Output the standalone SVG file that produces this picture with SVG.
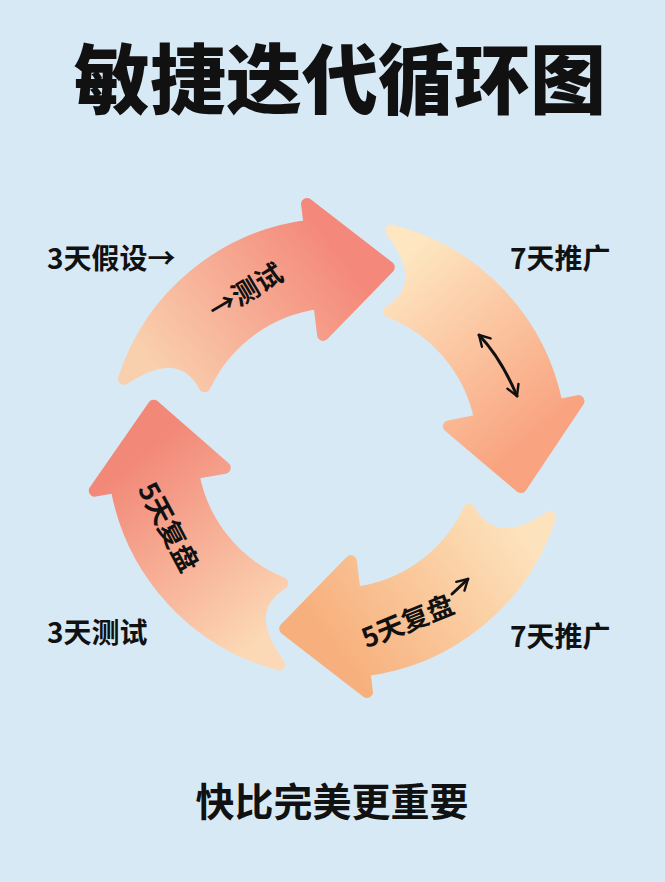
<svg xmlns="http://www.w3.org/2000/svg" width="665" height="882" viewBox="0 0 665 882">
<style>
.arr{stroke-width:12;stroke-linejoin:round}
.t{font-family:"Noto Sans CJK SC","Noto Sans",sans-serif;fill:#111}
.lab{font-size:28px;font-weight:700}
.in{font-size:27px;font-weight:700;text-anchor:middle}
.ln{fill:none;stroke:#111;stroke-width:3;stroke-linecap:round}
</style>
<defs>
<path id="shape" d="M 7.8 -223.9 A 224 224 0 0 1 206.2 -87.5 L 226.4 -96.1 L 188 0 L 104.9 -44.5 L 134.4 -57.0 A 146 146 0 0 0 22.8 -144.2 Q 59.1 -179.8 7.8 -223.9 Z"/>
<linearGradient id="g1" gradientUnits="userSpaceOnUse" x1="15" y1="-185" x2="190" y2="-50"><stop offset="0" stop-color="#f9d0ae"/><stop offset="1" stop-color="#f4887a"/></linearGradient>
<linearGradient id="g2" gradientUnits="userSpaceOnUse" x1="15" y1="-185" x2="190" y2="-50"><stop offset="0" stop-color="#fde6c0"/><stop offset="1" stop-color="#f9a380"/></linearGradient>
<linearGradient id="g3" gradientUnits="userSpaceOnUse" x1="15" y1="-185" x2="190" y2="-50"><stop offset="0" stop-color="#fde3bd"/><stop offset="1" stop-color="#f7b07d"/></linearGradient>
<linearGradient id="g4" gradientUnits="userSpaceOnUse" x1="15" y1="-185" x2="190" y2="-50"><stop offset="0" stop-color="#fcd9b6"/><stop offset="1" stop-color="#f28878"/></linearGradient>
<marker id="chev" viewBox="0 0 10 10" refX="8" refY="5" markerWidth="5" markerHeight="5" orient="auto-start-reverse" markerUnits="strokeWidth"><path d="M1,1 L8,5 L1,9" fill="none" stroke="#111" stroke-width="1.6" stroke-linecap="round" stroke-linejoin="round"/></marker>
</defs>
<rect width="665" height="882" fill="#d8e9f6"/>
<g id="title"><text class="t" x="340" y="108" font-size="76" font-weight="900" text-anchor="middle">敏捷迭代循环图</text></g>
<g id="arrow-top" transform="translate(337,448) rotate(-74)"><use href="#shape" class="arr" fill="url(#g1)" stroke="url(#g1)"/></g>
<g id="arrow-right" transform="translate(337,448) rotate(12)"><use href="#shape" class="arr" fill="url(#g2)" stroke="url(#g2)"/></g>
<g id="arrow-bottom" transform="translate(337,448) rotate(106)"><use href="#shape" class="arr" fill="url(#g3)" stroke="url(#g3)"/></g>
<g id="arrow-left" transform="translate(337,448) rotate(193)"><use href="#shape" class="arr" fill="url(#g4)" stroke="url(#g4)"/></g>
<g id="inner-labels">
<text class="t in" transform="translate(246,292) rotate(-31)" y="9">→测试</text>
<text class="t in" transform="translate(408,622) rotate(-22)" y="9">5天复盘</text>
<text class="t in" transform="translate(167,528) rotate(62)" y="8" font-size="24">5天复盘</text>
</g>
<g id="connectors">
<path class="ln" d="M 479 335 Q 501 358 517 396" marker-start="url(#chev)" marker-end="url(#chev)"/>
<path class="ln" d="M 452 594 L 468 579" stroke-width="2.6" marker-end="url(#chev)"/>
</g>
<g id="side-labels">
<text class="t lab" x="47" y="269">3天假设→</text>
<text class="t lab" x="510" y="269">7天推广</text>
<text class="t lab" x="47" y="643">3天测试</text>
<text class="t lab" x="510" y="647">7天推广</text>
</g>
<g id="footer"><text class="t" x="332" y="816" font-size="39" font-weight="600" text-anchor="middle">快比完美更重要</text></g>
</svg>
